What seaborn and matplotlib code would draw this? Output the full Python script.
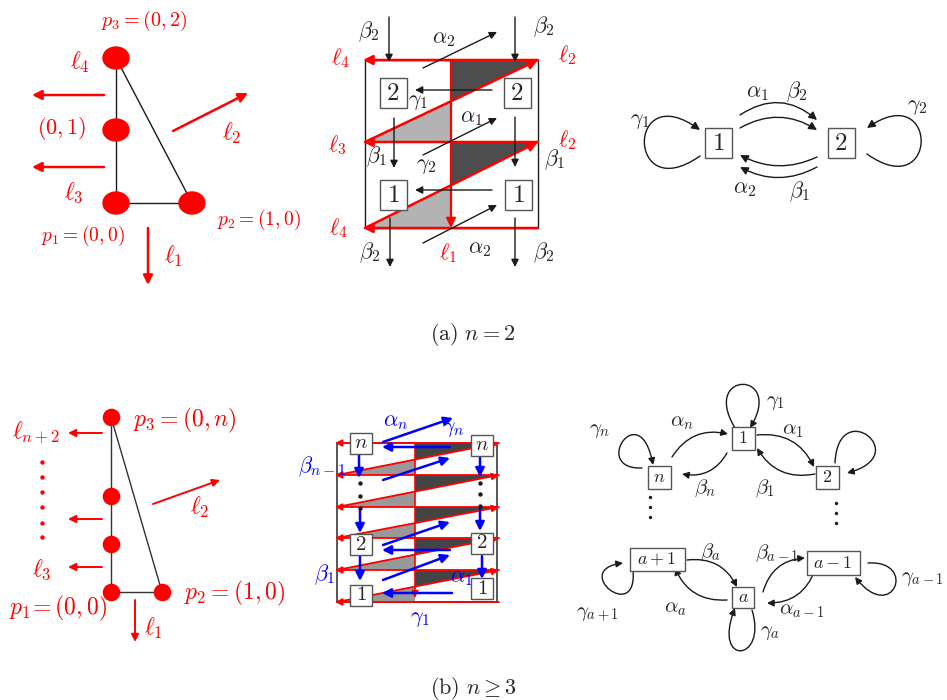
import matplotlib
matplotlib.use("Agg")
import matplotlib.pyplot as plt
import seaborn as sns
import pandas as pd
from matplotlib.patches import Ellipse, Rectangle, FancyArrowPatch, Polygon
from matplotlib.path import Path

sns.set_theme(style="white")
plt.rcParams["mathtext.fontset"] = "cm"
plt.rcParams["font.family"] = ["DejaVu Serif"]

RED = "#ff0000"
BLUE = "#0000ff"

# ---------- (a) left: polygon ----------
a_dots = [(116, 58), (116, 130), (116, 203), (192, 203)]
a_edges = [((116, 58), (116, 203)), ((116, 203), (192, 203)), ((116, 58), (192, 203))]
a_rays = [((104, 95), (32, 95)), ((104, 167), (32, 167)),
          ((173, 131), (248, 93)), ((148, 228), (148, 285))]
a_left_labels = [(r"$p_3=(0,2)$", 144, 21, 14.5), (r"$\ell_4$", 80, 62, 17),
                 (r"$(0,1)$", 62, 129, 16), (r"$\ell_2$", 232, 133, 17),
                 (r"$\ell_3$", 74, 193, 17), (r"$p_1=(0,0)$", 83, 236, 14),
                 (r"$p_2=(1,0)$", 259, 220, 14), (r"$\ell_1$", 173, 256, 17)]

# ---------- (a) middle: square ----------
a_sq = (365, 60, 538, 228)
a_cut_x = 451
a_rows = [60, 142, 228]
a_boxes = [("2", 393, 93), ("2", 517, 93), ("1", 393, 195), ("1", 518, 195)]
a_down = [((389, 17), (389, 62)), ((515, 17), (515, 62)), ((394, 118), (394, 168)),
          ((515, 117), (515, 167)), ((390, 218), (390, 267)), ((515, 218), (515, 267))]
a_left = [((492, 90), (415, 90)), ((492, 190), (415, 190))]
a_diag = [((423, 68), (497, 32)), ((423, 155), (497, 118)), ((423, 243), (497, 205))]
a_mid_labels = [(r"$\beta_2$", 369, 32), (r"$\beta_2$", 544, 27), (r"$\alpha_2$", 444, 38),
                (r"$\gamma_1$", 418, 101), (r"$\alpha_1$", 471, 117), (r"$\beta_1$", 377, 157),
                (r"$\gamma_2$", 426, 165), (r"$\beta_1$", 555, 160), (r"$\beta_2$", 370, 253),
                (r"$\alpha_2$", 480, 248), (r"$\beta_2$", 544, 253)]
a_mid_red = [(r"$\ell_4$", 340, 58), (r"$\ell_2$", 567, 55), (r"$\ell_3$", 337, 145),
             (r"$\ell_2$", 567, 140), (r"$\ell_4$", 338, 228), (r"$\ell_1$", 448, 253)]

# ---------- (a) right: graph ----------
a_nodes = [("1", 718, 143), ("2", 841, 143)]
a_arcs = [((740, 115), (817, 120), -0.38), ((740, 128), (817, 130), -0.3),
          ((817, 157), (740, 155), -0.25), ((817, 167), (740, 167), -0.27)]
a_loops = [[(700, 156), (626, 208), (626, 76), (700, 130)],
           [(867, 154), (939, 205), (939, 78), (867, 128)]]
a_graph_labels = [(r"$\alpha_1$", 757, 92), (r"$\beta_2$", 797, 92), (r"$\gamma_1$", 640, 120),
                  (r"$\gamma_2$", 917, 106), (r"$\alpha_2$", 745, 188), (r"$\beta_1$", 800, 192)]

# ---------- (b) left: polygon ----------
b_dots = pd.DataFrame({"x": [111, 111, 111, 111, 162], "y": [417, 496, 544, 592, 592]})
b_edges = [((111, 417), (111, 592)), ((111, 592), (162, 592)), ((111, 417), (162, 592))]
b_rays = [((102, 433), (68, 433)), ((102, 519), (68, 519)), ((102, 567), (68, 567)),
          ((153, 504), (220, 480)), ((135, 600), (135, 642))]
b_vdots = pd.DataFrame({"x": [42] * 6, "y": [462, 477, 492, 507, 523, 537]})
b_left_labels = [(r"$\ell_{n+2}$", 36, 433), (r"$p_3=(0,n)$", 185, 420), (r"$\ell_2$", 200, 507),
                 (r"$\ell_3$", 42, 570), (r"$p_1\!=(0,0)$", 58, 608), (r"$p_2=(1,0)$", 235, 593),
                 (r"$\ell_1$", 153, 628)]

# ---------- (b) middle: strip ----------
b_sq = (337, 443, 497, 602)
b_cut_x = 415
b_rows = [443, 475, 507, 538, 570, 602]
b_boxes = [("n", 361, 443), ("n", 482, 445), ("2", 361, 544), ("2", 482, 543),
           ("1", 361, 595), ("1", 482, 588)]
b_down = [((359, 455), (359, 478)), ((360, 510), (360, 533)), ((360, 556), (360, 581)),
          ((480, 457), (480, 477)), ((480, 508), (480, 531)), ((482, 556), (482, 579))]
b_left = [((450, 447), (382, 447)), ((450, 550), (382, 550)), ((452, 593), (382, 593))]
b_diag = [((383, 442), (453, 418)), ((383, 480), (450, 458)), ((383, 545), (450, 522)),
          ((383, 580), (450, 555))]
b_bdots = pd.DataFrame({"x": [360, 360, 360, 480, 480, 480],
                        "y": [483, 496, 508, 483, 494, 506]})
b_mid_labels = [(r"$\alpha_n$", 396, 421), (r"$\gamma_n$", 453, 428), (r"$\beta_{n-1}$", 322, 467),
                (r"$\beta_1$", 325, 575), (r"$\alpha_1$", 461, 577), (r"$\gamma_1$", 420, 618)]

# ---------- (b) right: graph ----------
b_nodes = [("1", 743, 438, 23, 23), ("n", 659, 477, 23, 23), ("2", 827, 477, 23, 23),
           ("a+1", 657, 559, 55, 23), ("a-1", 833, 563, 53, 24), ("a", 743, 597, 22, 21)]
b_arcs = [((672, 457), (728, 434)), ((727, 453), (682, 474)), ((757, 435), (814, 467)),
          ((815, 474), (757, 448)), ((687, 560), (737, 587)), ((727, 600), (675, 568)),
          ((763, 592), (805, 558)), ((815, 570), (767, 603))]
b_loops = [[(735, 428), (700, 370), (785, 370), (750, 428)],
           [(642, 468), (590, 470), (640, 395), (653, 465)],
           [(835, 463), (838, 395), (915, 455), (847, 473)],
           [(633, 570), (638, 625), (570, 570), (623, 563)],
           [(868, 563), (918, 560), (893, 625), (855, 577)],
           [(752, 610), (768, 662), (712, 667), (735, 608)]]
b_gdots = pd.DataFrame({"x": [650, 650, 650, 836, 836, 836],
                        "y": [497, 507, 517, 503, 513, 523]})
b_graph_labels = [(r"$\gamma_1$", 775, 403), (r"$\alpha_n$", 682, 422), (r"$\gamma_n$", 600, 430),
                  (r"$\alpha_1$", 793, 430), (r"$\beta_n$", 705, 488), (r"$\beta_1$", 765, 488),
                  (r"$\beta_a$", 711, 552), (r"$\beta_{a-1}$", 777, 553), (r"$\gamma_{a-1}$", 922, 578),
                  (r"$\gamma_{a+1}$", 597, 615), (r"$\alpha_a$", 675, 608), (r"$\alpha_{a-1}$", 802, 610),
                  (r"$\gamma_a$", 770, 633)]

captions = [(r"$\mathrm{(a)}\ n=2$", 473, 335), (r"$\mathrm{(b)}\ n\geq 3$", 473, 688)]


def arrow(ax, p0, p1, color="k", lw=1.0, ms=10, rad=0.0, z=3):
    ax.annotate("", xy=p1, xytext=p0, zorder=z,
                arrowprops=dict(arrowstyle="-|>", color=color, lw=lw, mutation_scale=ms,
                                shrinkA=0, shrinkB=0, connectionstyle=f"arc3,rad={rad}"))


def loop(ax, pts, lw=1.0, ms=10):
    path = Path(pts, [Path.MOVETO, Path.CURVE4, Path.CURVE4, Path.CURVE4])
    ax.add_patch(FancyArrowPatch(path=path, arrowstyle="-|>", color="k", lw=lw,
                                 mutation_scale=ms, zorder=3))


def box(ax, txt, x, y, w, h, fs):
    ax.add_patch(Rectangle((x - w / 2, y - h / 2), w, h, fc="white", ec="#555555", lw=1.0, zorder=5))
    ax.text(x, y, rf"${txt}$", ha="center", va="center", fontsize=fs, zorder=6)


def strip(ax, sq, cut, rows, light, dark, lw, ms, ext=0):
    x0, y0, x1, y1 = sq
    for r0, r1 in zip(rows[:-1], rows[1:]):
        ym = r1 - (cut - x0) / (x1 - x0) * (r1 - r0)
        ax.add_patch(Polygon([(x0, r1), (cut, r1), (cut, ym)], fc=light, ec="none", zorder=1))
        ax.add_patch(Polygon([(cut, r0), (cut, ym), (x1, r0)], fc=dark, ec="none", zorder=1))
        arrow(ax, (x0, r1), (x1 + ext, r0), RED, lw, ms, z=2)
    for r in rows:
        arrow(ax, (x1 + ext, r), (x0 - 2, r), RED, lw, ms, z=2)


fig = plt.figure(figsize=(9.47, 7.0), dpi=100)
ax = fig.add_axes([0, 0, 1, 1])
ax.set_xlim(0, 947)
ax.set_ylim(700, 0)
ax.axis("off")

# (a) left
for p0, p1 in a_edges:
    ax.plot([p0[0], p1[0]], [p0[1], p1[1]], color="k", lw=1.0, zorder=1)
for x, y in a_dots:
    ax.add_patch(Ellipse((x, y), 26, 22, color=RED, zorder=2))
for p0, p1 in a_rays:
    arrow(ax, p0, p1, RED, 1.8, 14)
for s, x, y, fs in a_left_labels:
    ax.text(x, y, s, ha="center", va="center", fontsize=fs, color=RED)

# (a) middle
x0, y0, x1, y1 = a_sq
ax.add_patch(Rectangle((x0, y0), x1 - x0, y1 - y0, fc="none", ec="k", lw=1.0, zorder=1))
strip(ax, a_sq, a_cut_x, a_rows, "#b3b3b3", "#4d4d4d", 1.8, 14)
arrow(ax, (a_cut_x, y0), (a_cut_x, y1), RED, 1.6, 14, z=2)
for p0, p1 in a_down + a_left + a_diag:
    arrow(ax, p0, p1, "k", 1.0, 11, z=4)
for s, x, y in a_boxes:
    box(ax, s, x, y, 27, 30, 18)
for s, x, y in a_mid_labels:
    ax.text(x, y, s, ha="center", va="center", fontsize=16)
for s, x, y in a_mid_red:
    ax.text(x, y, s, ha="center", va="center", fontsize=16, color=RED)

# (a) right
for p0, p1, rad in a_arcs:
    arrow(ax, p0, p1, "k", 1.0, 12, rad)
for pts in a_loops:
    loop(ax, pts, 1.0, 12)
for s, x, y in a_nodes:
    box(ax, s, x, y, 27, 30, 18)
for s, x, y in a_graph_labels:
    ax.text(x, y, s, ha="center", va="center", fontsize=16)

# (b) left
for p0, p1 in b_edges:
    ax.plot([p0[0], p1[0]], [p0[1], p1[1]], color="#333333", lw=1.0, zorder=1)
sns.scatterplot(data=b_dots, x="x", y="y", s=160, color=RED, linewidth=0, ax=ax, zorder=2)
sns.scatterplot(data=b_vdots, x="x", y="y", s=10, color=RED, linewidth=0, ax=ax, zorder=2)
for p0, p1 in b_rays:
    arrow(ax, p0, p1, RED, 1.4, 11)
for s, x, y in b_left_labels:
    ax.text(x, y, s, ha="center", va="center", fontsize=17, color=RED)

# (b) middle
x0, y0, x1, y1 = b_sq
ax.add_patch(Rectangle((x0, y0), x1 - x0, y1 - y0, fc="none", ec="#555555", lw=1.4, zorder=1))
strip(ax, b_sq, b_cut_x, b_rows, "#999999", "#444444", 1.3, 10, ext=2)
arrow(ax, (b_cut_x, y0), (b_cut_x, 598), RED, 1.2, 10, z=2)
for p0, p1 in b_down + b_left + b_diag:
    arrow(ax, p0, p1, BLUE, 1.8, 13, z=4)
sns.scatterplot(data=b_bdots, x="x", y="y", s=10, color="k", linewidth=0, ax=ax, zorder=4)
for s, x, y in b_boxes:
    box(ax, s, x, y, 22, 21, 15)
for s, x, y in b_mid_labels:
    ax.text(x, y, s, ha="center", va="center", fontsize=16, color=BLUE)

# (b) right
for p0, p1 in b_arcs:
    arrow(ax, p0, p1, "k", 1.0, 10, -0.35)
for pts in b_loops:
    loop(ax, pts, 1.0, 10)
sns.scatterplot(data=b_gdots, x="x", y="y", s=6, color="k", linewidth=0, ax=ax, zorder=4)
for s, x, y, w, h in b_nodes:
    box(ax, s, x, y, w, h, 13)
for s, x, y in b_graph_labels:
    ax.text(x, y, s, ha="center", va="center", fontsize=15)

for s, x, y in captions:
    ax.text(x, y, s, ha="center", va="center", fontsize=16)

ax.set_xlabel("")
ax.set_ylabel("")
if ax.get_legend() is not None:
    ax.get_legend().remove()
fig.savefig("out.png", dpi=100)
